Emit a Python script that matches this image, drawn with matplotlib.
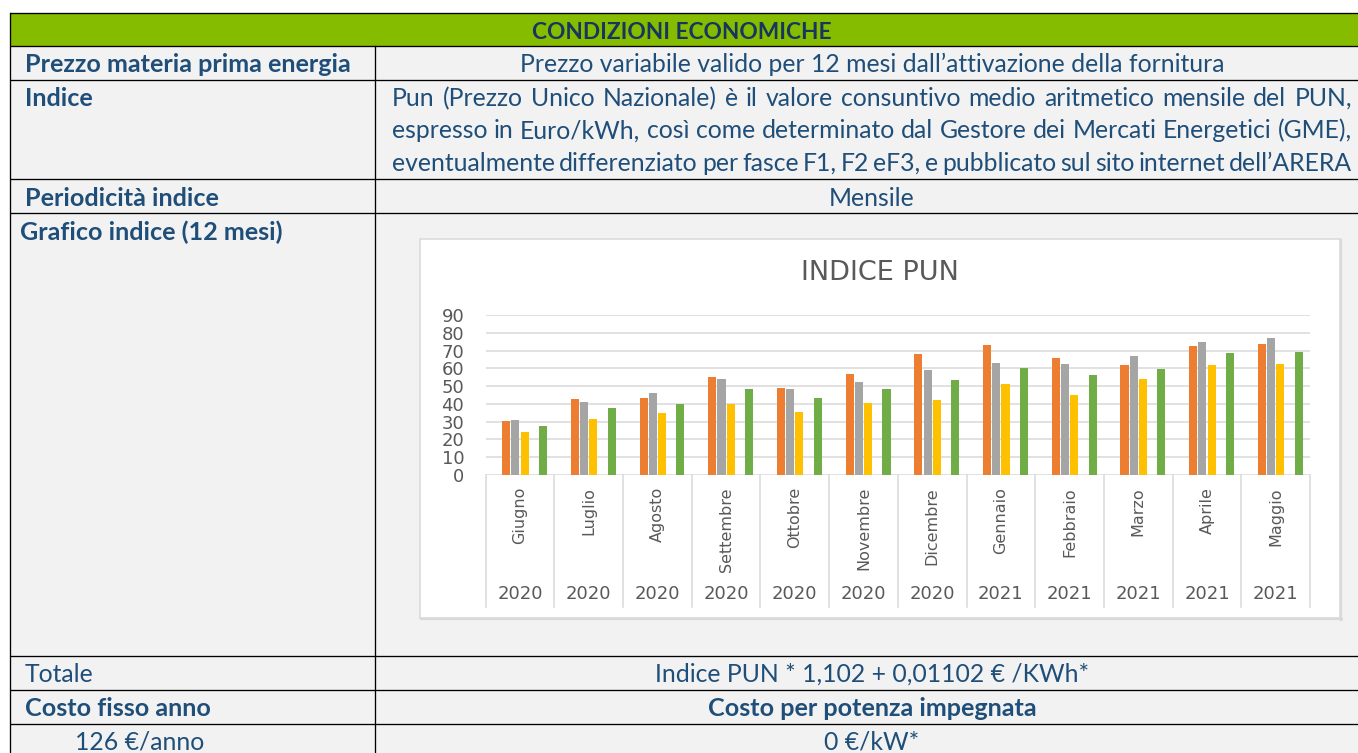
import matplotlib
matplotlib.use("Agg")
import matplotlib.pyplot as plt
from matplotlib.patches import Rectangle
from matplotlib.transforms import blended_transform_factory
import numpy as np

# ---------------- data ----------------
months = ["Giugno", "Luglio", "Agosto", "Settembre", "Ottobre", "Novembre",
          "Dicembre", "Gennaio", "Febbraio", "Marzo", "Aprile", "Maggio"]
years = ["2020"] * 7 + ["2021"] * 5
f1_vals = [30.2, 42.8, 43.3, 55.1, 49.1, 57.0, 68.2, 73.3, 65.8, 61.9, 72.8, 73.9]
f2_vals = [30.9, 41.1, 46.1, 54.0, 48.4, 52.5, 59.3, 63.2, 62.6, 66.9, 75.0, 77.3]
f3_vals = [24.0, 31.5, 34.9, 39.9, 35.4, 40.5, 42.2, 51.2, 45.0, 54.0, 61.9, 62.4]
pun_vals = [27.4, 37.7, 39.9, 48.4, 43.3, 48.4, 53.4, 60.2, 56.3, 59.6, 68.6, 69.2]
y_ticks = [0, 10, 20, 30, 40, 50, 60, 70, 80, 90]
chart_title = "INDICE PUN"

header_text = "CONDIZIONI ECONOMICHE"
row_labels = ["Prezzo materia prima energia", "Indice", "Periodicità indice",
              "Grafico indice (12 mesi)", "Totale", "Costo fisso anno", "126 €/anno"]
row_values = ["Prezzo variabile valido per 12 mesi dall’attivazione della fornitura",
              "Mensile", "Indice PUN * 1,102 + 0,01102 € /KWh*",
              "Costo per potenza impegnata", "0 €/kW*"]
indice_lines = ["Pun (Prezzo Unico Nazionale) è il valore consuntivo medio aritmetico mensile del PUN,",
                "espresso in Euro/kWh, così come determinato dal Gestore dei Mercati Energetici (GME),",
                "eventualmente differenziato per fasce F1, F2 eF3, e pubblicato sul sito internet dell’ARERA"]

# ---------------- style ----------------
W, H, DPI = 1358, 753, 100
GREEN_HDR = "#85BC00"
CELL_BG = "#F2F2F2"
TXT = "#1F4E79"
HDR_TXT = "#17365D"
GRID = "#D9D9D9"
AX_TXT = "#595959"
TFONT = "Lato"
CFONT = "DejaVu Sans"
series_colors = ["#ED7D31", "#A5A5A5", "#FFC000", "#70AD47"]
series_slots = [1, 2, 3, 5]        # Excel slots out of 6 (slots 0 and 4 are empty series)
n_slots = 6
slot_w = 0.134
bar_w = 0.118

fig = plt.figure(figsize=(W / DPI, H / DPI), dpi=DPI)
fig.patch.set_facecolor("white")
bg = fig.add_axes([0, 0, 1, 1])
bg.set_xlim(0, W)
bg.set_ylim(H, 0)
bg.axis("off")
renderer = fig.canvas.get_renderer()


def text_width(s, size, weight="normal", family=TFONT):
    t = bg.text(0, 0, s, fontsize=size, fontweight=weight, family=family)
    w = t.get_window_extent(renderer).width
    t.remove()
    return w


# font sizes fitted so reference strings match the widths in the picture
reg_size = 10 * 705 / text_width(row_values[0], 10)
bold_size = 10 * 325 / text_width(row_labels[0], 10, "bold")
hdr_size = 10 * 298 / text_width(header_text, 10, "bold")

# ---------------- table ----------------
x_left, x_div = 10, 375
y_top, y_hdr = 13, 45.5
row_lines = [79.5, 178.5, 212.5, 656, 690, 723.7]

bg.add_patch(Rectangle((x_left, y_top), W, H, facecolor=CELL_BG, edgecolor="none", zorder=0))
bg.add_patch(Rectangle((x_left, y_top), W, y_hdr - y_top, facecolor=GREEN_HDR, edgecolor="none", zorder=0))
lw = 0.95
for yy in [y_top, y_hdr] + row_lines:
    bg.plot([x_left, W], [yy, yy], color="black", lw=lw, zorder=2, solid_capstyle="butt")
bg.plot([x_left, x_left], [y_top, H], color="black", lw=lw, zorder=2)
bg.plot([x_div, x_div], [y_hdr, H], color="black", lw=lw, zorder=2)

bg.text(682, 38.5, header_text, ha="center", va="baseline", fontsize=hdr_size,
        fontweight="bold", color=HDR_TXT, family=TFONT)

label_pos = [(25, 71.7, "bold"), (25, 106, "bold"), (25, 205.7, "bold"), (20, 240, "bold"),
             (25, 682, "normal"), (25, 716, "bold"), (75, 750, "normal")]
for s, (x, y, wt) in zip(row_labels, label_pos):
    bg.text(x, y, s, ha="left", va="baseline", fontsize=bold_size if wt == "bold" else reg_size,
            fontweight=wt, color=TXT, family=TFONT)

value_pos = [(71.7, "normal"), (205.7, "normal"), (682, "normal"), (716, "bold"), (750, "normal")]
for s, (y, wt) in zip(row_values, value_pos):
    bg.text(872, y, s, ha="center", va="baseline", fontsize=bold_size if wt == "bold" else reg_size,
            fontweight=wt, color=TXT, family=TFONT)

# justified paragraph
jx0, jx1 = 392, 1352
for line, y in zip(indice_lines, [106, 138.3, 170.7]):
    words = line.split(" ")
    widths = [text_width(w, reg_size) for w in words]
    gap = (jx1 - jx0 - sum(widths)) / (len(words) - 1)
    x = jx0
    for w, wd in zip(words, widths):
        bg.text(x, y, w, ha="left", va="baseline", fontsize=reg_size, color=TXT, family=TFONT)
        x += wd + gap

# ---------------- chart frame ----------------
fx0, fy0, fx1, fy1 = 420, 238.5, 1340, 618
bg.add_patch(Rectangle((fx0, fy0), fx1 - fx0, fy1 - fy0, facecolor="white",
                       edgecolor=GRID, lw=1.1, zorder=1))
bg.plot([fx1 + 0.5, fx1 + 0.5], [fy0 + 1, fy1 + 1.5], color=GRID, lw=1.6, zorder=1)
bg.plot([fx0 + 1, fx1 + 1.5], [fy1 + 0.5, fy1 + 0.5], color=GRID, lw=1.6, zorder=1)

bg.text(880, 273, chart_title, ha="center", va="center",
        fontsize=19.5, color=AX_TXT, family=CFONT)

# plot area
px0, px1, py_top, py_bot = 485.7, 1310, 315, 475
ax = fig.add_axes([px0 / W, 1 - py_bot / H, (px1 - px0) / W, (py_bot - py_top) / H])
ax.set_facecolor("none")
ax.set_xlim(-0.5, len(months) - 0.5)
ax.set_ylim(0, 90)
for sp in ax.spines.values():
    sp.set_visible(False)
ax.set_yticks(y_ticks)
ax.set_xticks([])
ax.tick_params(axis="y", length=0, pad=15.5, labelsize=13, labelcolor=AX_TXT)
for lab in ax.get_yticklabels():
    lab.set_family(CFONT)
ax.yaxis.grid(True, color=GRID, lw=1.1)
ax.set_axisbelow(True)

x = np.arange(len(months))
gap = 1 - n_slots * slot_w
for vals, col, slot in zip([f1_vals, f2_vals, f3_vals, pun_vals], series_colors, series_slots):
    off = -0.5 + gap / 2 + (slot + 0.5) * slot_w
    ax.bar(x + off, vals, width=bar_w, color=col, edgecolor="none", zorder=3)

# multi-level category axis
blend = blended_transform_factory(ax.transData, bg.transData)
for b in np.arange(-0.5, len(months), 1):
    bg.plot([b, b], [py_bot, 607], transform=blend, color=GRID, lw=1.1, zorder=2)
for i, (m, yv) in enumerate(zip(months, years)):
    bg.text(i, 487, m, transform=blend, rotation=90, ha="center", va="top",
            fontsize=11.5, color=AX_TXT, family=CFONT)
    bg.text(i, 594, yv, transform=blend, ha="center", va="center",
            fontsize=13, color=AX_TXT, family=CFONT)

fig.savefig("out.png", dpi=DPI)
